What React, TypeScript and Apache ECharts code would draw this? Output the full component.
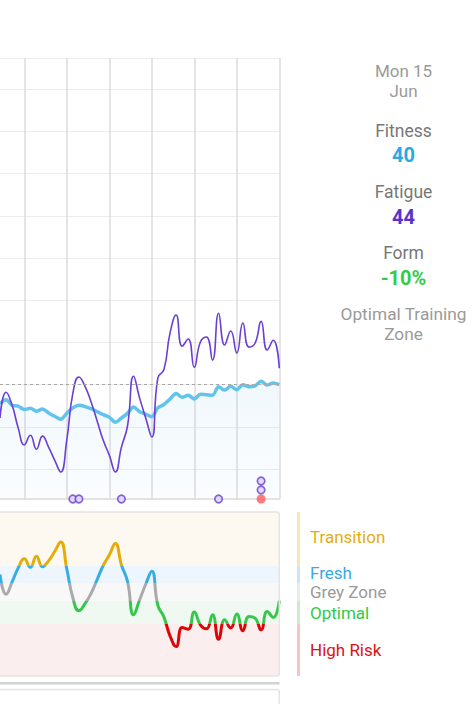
import React, { useEffect, useRef } from 'react';
import * as echarts from 'echarts';

// Day categories (30 Apr .. 15 Jun)
const days = [
  '30 Apr',
  '1 May', '2 May', '3 May', '4 May', '5 May', '6 May', '7 May', '8 May', '9 May', '10 May',
  '11 May', '12 May', '13 May', '14 May', '15 May', '16 May', '17 May', '18 May', '19 May', '20 May',
  '21 May', '22 May', '23 May', '24 May', '25 May', '26 May', '27 May', '28 May', '29 May', '30 May', '31 May',
  '1 Jun', '2 Jun', '3 Jun', '4 Jun', '5 Jun', '6 Jun', '7 Jun', '8 Jun', '9 Jun', '10 Jun',
  '11 Jun', '12 Jun', '13 Jun', '14 Jun', '15 Jun',
];
const weekStarts = ['4 May', '11 May', '18 May', '25 May', '1 Jun', '8 Jun', '15 Jun'];

const fitness = [
  35.5, 36.4, 35.1, 34.9, 34.1, 34.4, 33.7, 34.2, 33.3, 32.5, 31.8, 33.2, 34.5, 35.1, 34.8, 34.3,
  33.6, 32.9, 32.3, 31.1, 32.1, 33.2, 34.7, 33.6, 33.0, 32.4, 34.5, 35.3, 36.6, 37.9, 37.0, 37.5,
  36.6, 37.7, 37.6, 37.5, 39.5, 38.7, 39.6, 38.8, 40.0, 39.5, 39.7, 40.8, 39.9, 40.4, 40.0,
];
const fatigue = [
  32.1, 38.2, 35.1, 29.7, 25.7, 28.0, 24.7, 27.8, 25.2, 22.1, 19.3, 26.9, 38.0, 41.8, 39.6, 35.9,
  31.4, 26.8, 23.3, 19.3, 25.2, 30.2, 42.0, 36.8, 32.1, 27.6, 41.6, 43.6, 52.2, 56.5, 49.1, 50.8,
  44.1, 50.1, 51.3, 45.8, 56.9, 49.4, 52.7, 47.5, 54.6, 48.9, 49.8, 55.0, 48.2, 50.5, 43.9,
];
const form = [
  12.3, -4.5, 6, 18, 25.7, 18.5, 28, 19, 24, 32, 40, 17, -7.5, -18.6, -12.5, -3.8,
  8, 20, 29, 38.9, 20.5, 6.5, -22, -9.2, 4, 15.1, -14, -24, -40, -49.2, -32.9, -34.3,
  -19.7, -30.6, -34, -22, -42.9, -26.3, -33.4, -21.4, -35.7, -23.5, -24.9, -34.9, -19.2, -24.3, -10,
];

const activityDays = ['12 May', '13 May', '20 May', '5 Jun', '12 Jun', '12 Jun'];
const activityStack = [0, 0, 0, 0, 1, 2];
const raceDays = ['12 Jun'];
const raceStack = [0];

const currentFitness = 40;

const zoneNames = ['Transition', 'Fresh', 'Grey Zone', 'Optimal', 'High Risk'];
const FORM_MIN = -74.3;
const FORM_MAX = 65.7;
const zoneFrom = [20, 5, -10, -30, FORM_MIN];
const zoneTo = [FORM_MAX, 20, 5, -10, -30];
const zoneLine = ['#e5ab06', '#3aace4', '#aaaaaa', '#34c84a', '#dd0505'];
const zoneBg = ['#fdf9f0', '#eef6fd', '#f8f8f8', '#eff9f1', '#fbeeee'];
const zoneBar = ['#f8e6b0', '#c9e6f7', '#ebebeb', '#c8edcd', '#f6c4c4'];
const zoneLabel = ['#e4ac10', '#3aa9e2', '#9a9a9a', '#33c94a', '#d81414'];
const zoneLabelShift = [-2, -1.5, 0, 1, 0];

const panelLabels = ['Mon 15', 'Jun', 'Fitness', '40', 'Fatigue', '44', 'Form', '-10%', 'Optimal Training', 'Zone'];

const FIT_MIN = 12.9;
const FIT_MAX = 117.4;

export default function App() {
  const ref = useRef<HTMLDivElement>(null);
  useEffect(() => {
    const chart = echarts.init(ref.current as HTMLDivElement, null, { renderer: 'svg' });
    const font = 'Roboto, sans-serif';

    const panelStyles = [
      { y: 70.6, color: '#9a9a9a', weight: 'normal', size: 17 },
      { y: 90.6, color: '#9a9a9a', weight: 'normal', size: 17 },
      { y: 131, color: '#777777', weight: 'normal', size: 17.5 },
      { y: 154.5, color: '#2ea8e2', weight: 'bold', size: 20 },
      { y: 192, color: '#777777', weight: 'normal', size: 17.5 },
      { y: 216.7, color: '#5a32c8', weight: 'bold', size: 20 },
      { y: 253, color: '#777777', weight: 'normal', size: 17.5 },
      { y: 278.3, color: '#33cc4a', weight: 'bold', size: 20 },
      { y: 314, color: '#9a9a9a', weight: 'normal', size: 17.3 },
      { y: 334.2, color: '#9a9a9a', weight: 'normal', size: 17.3 },
    ];

    const graphics: any[] = panelLabels.map((t, i) => ({
      type: 'text',
      x: 403.5,
      y: panelStyles[i].y,
      silent: true,
      style: {
        text: t,
        fill: panelStyles[i].color,
        fontFamily: 'Roboto, sans-serif',
        fontSize: panelStyles[i].size,
        fontWeight: panelStyles[i].weight,
        align: 'center',
        verticalAlign: 'middle',
      },
    }));
    graphics.push(
      {
        type: 'rect',
        silent: true,
        shape: { x: -6, y: 512, width: 285.3, height: 164, r: 3 },
        style: { fill: 'none', stroke: '#e4e4e4', lineWidth: 1.5 },
        z: 10,
      },
      {
        type: 'rect',
        silent: true,
        shape: { x: 0, y: 682, width: 279.5, height: 2.5 },
        style: { fill: '#d2d2d2' },
      },
      {
        type: 'rect',
        silent: true,
        shape: { x: -6, y: 689.5, width: 285.3, height: 40, r: 3 },
        style: { fill: '#ffffff', stroke: '#e4e4e4', lineWidth: 1.5 },
      }
    );

    const bandAreas = zoneNames.map((n, i) => [
      { yAxis: zoneFrom[i], itemStyle: { color: zoneBg[i] } },
      { yAxis: zoneTo[i] },
    ]);
    const barAreas = zoneNames.map((n, i) => [
      {
        name: n,
        yAxis: zoneFrom[i],
        itemStyle: { color: zoneBar[i] },
        label: { color: zoneLabel[i], offset: [0, zoneLabelShift[i]] },
      },
      { yAxis: zoneTo[i] },
    ]);

    const markerData = activityDays.map((d, i) => ({
      value: [d, FIT_MIN],
      symbolOffset: [0, -9 * activityStack[i]],
    }));
    const raceData = raceDays.map((d, i) => ({
      value: [d, FIT_MIN],
      symbolOffset: [0, -9 * raceStack[i]],
    }));

    const option: any = {
      animation: false,
      textStyle: { fontFamily: font },
      grid: [
        { left: 0, top: 58, width: 279.3, height: 441, show: false },
        { left: 0, top: 512, width: 279.3, height: 164, show: false },
        { left: 297, top: 512, width: 3, height: 164, show: false },
      ],
      xAxis: [
        {
          type: 'category',
          gridIndex: 0,
          data: days,
          boundaryGap: false,
          axisLine: { show: true, lineStyle: { color: '#dedede', width: 1.5 } },
          axisTick: { show: false },
          axisLabel: { show: false },
          splitLine: {
            show: true,
            interval: (_i: number, v: string) => weekStarts.includes(v),
            lineStyle: { color: '#dddddd', width: 1.5 },
          },
        },
        {
          type: 'category',
          gridIndex: 1,
          data: days,
          boundaryGap: false,
          axisLine: { show: false },
          axisTick: { show: false },
          axisLabel: { show: false },
          splitLine: { show: false },
        },
        {
          type: 'value',
          gridIndex: 2,
          min: 0,
          max: 1,
          show: false,
          splitLine: { show: false },
        },
      ],
      yAxis: [
        {
          type: 'value',
          gridIndex: 0,
          min: FIT_MIN,
          max: FIT_MAX,
          splitNumber: 10,
          axisLine: { show: false },
          axisTick: { show: false },
          axisLabel: { show: false },
          splitLine: { show: true, lineStyle: { color: '#ececec', width: 1 } },
        },
        {
          type: 'value',
          gridIndex: 1,
          min: FORM_MIN,
          max: FORM_MAX,
          show: false,
          splitLine: { show: false },
        },
        {
          type: 'value',
          gridIndex: 2,
          min: FORM_MIN,
          max: FORM_MAX,
          show: false,
          splitLine: { show: false },
        },
      ],
      visualMap: {
        show: false,
        type: 'piecewise',
        seriesIndex: 3,
        dimension: 1,
        pieces: zoneNames.map((n, i) => ({
          gt: i === 4 ? -1000 : zoneFrom[i],
          lte: i === 0 ? 1000 : zoneTo[i],
          color: zoneLine[i],
        })),
      },
      series: [
        {
          type: 'line',
          name: 'Fitness',
          xAxisIndex: 0,
          yAxisIndex: 0,
          data: fitness,
          smooth: 0.3,
          symbol: 'none',
          lineStyle: { color: '#62c3ec', width: 3.5 },
          areaStyle: {
            origin: 'start',
            color: new echarts.graphic.LinearGradient(0, 0, 0, 1, [
              { offset: 0, color: 'rgba(98,180,236,0.13)' },
              { offset: 1, color: 'rgba(98,180,236,0.04)' },
            ]),
          },
          z: 3,
          markLine: {
            silent: true,
            symbol: 'none',
            label: { show: false },
            lineStyle: { color: '#a8a8a8', type: [3, 3], width: 1 },
            data: [{ yAxis: currentFitness }],
          },
        },
        {
          type: 'line',
          name: 'Fatigue',
          xAxisIndex: 0,
          yAxisIndex: 0,
          data: fatigue,
          smooth: 0.5,
          symbol: 'none',
          lineStyle: { color: '#6a3fd2', width: 1.6 },
          z: 4,
        },
        {
          type: 'line',
          name: 'Bands',
          xAxisIndex: 1,
          yAxisIndex: 1,
          data: [],
          symbol: 'none',
          markArea: { silent: true, data: bandAreas },
          z: 1,
        },
        {
          type: 'line',
          name: 'Form',
          xAxisIndex: 1,
          yAxisIndex: 1,
          data: form,
          smooth: 0.5,
          symbol: 'none',
          lineStyle: { width: 3 },
          z: 5,
        },
        {
          type: 'line',
          name: 'Legend',
          xAxisIndex: 2,
          yAxisIndex: 2,
          data: [],
          symbol: 'none',
          markArea: {
            silent: true,
            label: {
              show: true,
              position: 'right',
              distance: 10,
              fontSize: 17,
              fontFamily: font,
            },
            data: barAreas,
          },
        },
        {
          type: 'scatter',
          name: 'Activities',
          xAxisIndex: 0,
          yAxisIndex: 0,
          data: markerData,
          symbol: 'circle',
          symbolSize: 7.5,
          clip: false,
          itemStyle: { color: '#ddd3f7', borderColor: '#6a3fd2', borderWidth: 1.7 },
          z: 6,
        },
        {
          type: 'scatter',
          name: 'Races',
          xAxisIndex: 0,
          yAxisIndex: 0,
          data: raceData,
          symbol: 'circle',
          symbolSize: 9,
          clip: false,
          itemStyle: { color: '#ff5a5a' },
          z: 6,
        },
      ],
      graphic: graphics,
    };
    chart.setOption(option);
    return () => chart.dispose();
  }, []);
  return (
    <div
      ref={ref}
      style={{ position: 'absolute', left: 0, top: 0, width: 472, height: 704, background: '#ffffff' }}
    />
  );
}
